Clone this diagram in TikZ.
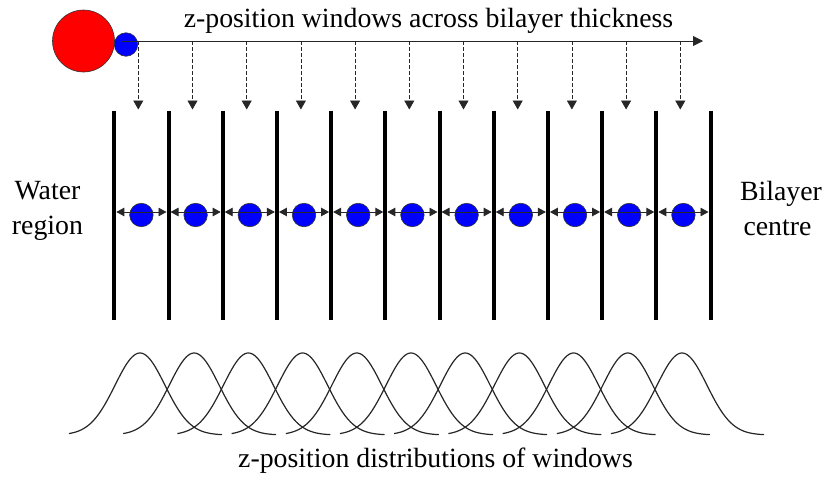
\documentclass[tikz,border=0pt]{standalone}
\usepackage{fontspec}
\setmainfont{Liberation Serif}
\usetikzlibrary{arrows.meta}
\begin{document}
\begin{tikzpicture}[x=1pt,y=-1pt,
  lbl/.style={font=\fontsize{27.8}{33}\selectfont, inner sep=0pt, anchor=base},
  wall/.style={line width=4pt, black},
  probe/.style={black!85, line width=0.8pt, dash pattern=on 3.5pt off 2.5pt,
    -{Triangle[length=9pt,width=10pt]}},
  zaxis/.style={black!85, line width=0.9pt, -{Triangle[length=10pt,width=10pt]}},
  spanarrow/.style={black!85, line width=0.9pt,
    {Triangle[length=8pt,width=8.5pt]}-{Triangle[length=8pt,width=8.5pt]},
    shorten <=2pt, shorten >=2pt},
  bead/.style={circle, draw=black!80, line width=0.6pt, fill=blue,
    minimum size=23.5pt, inner sep=0pt},
  dist/.style={black!85, line width=1.2pt}]
\useasboundingbox (0,0) rectangle (824,477);

% lipid probe: head group and tail bead
\node[circle, draw=black!80, line width=0.6pt, fill=red, minimum size=62pt,
  inner sep=0pt] (head) at (83.5,41) {};
\node[bead] (tail) at (126,44.5) {};

% z axis across the bilayer
\coordinate (axs) at (121,41);
\coordinate (axe) at (703,41);
\draw[zaxis] (axs) -- (axe);
\node[lbl] (title) at (428.5,27) {z-position windows across bilayer thickness};

% window boundaries
\foreach \k in {0,...,11} {
  \pgfmathsetmacro\xw{114.3+54.2*\k}
  \coordinate (wt\k) at (\xw,110.5);
  \coordinate (wb\k) at (\xw,319.5);
  \coordinate (wm\k) at (\xw,212);
  \draw[wall] (wt\k) -- (wb\k);
}

% windows: sampling arrows, restrained beads and distributions
\foreach \k in {0,...,10} {
  \pgfmathsetmacro\xp{138.3+54.2*\k}
  \pgfmathsetmacro\xc{141.4+54.2*\k}
  \pgfmathsetmacro\xg{140+54.2*\k}
  \pgfmathtruncatemacro\n{\k+1}
  \coordinate (ps\k) at (\xp,41);
  \coordinate (pe\k) at (\xp,109.5);
  \draw[probe] (ps\k) -- (pe\k);
  \node[bead] (b\k) at (\xc,215) {};
  \draw[spanarrow] (wm\k) -- (wm\n);
  \draw[dist, domain=-71:82, samples=100, smooth]
    plot ({\xg+\x}, {435-82*exp(-(\x*\x)/1250)});
}

% side labels
\node[lbl] (w1) at (47.5,199) {Water};
\node[lbl] (w2) at (47.5,234) {region};
\node[lbl] (c1) at (781,200) {Bilayer};
\node[lbl] (c2) at (777.5,235) {centre};

\node[lbl] (foot) at (435.5,467) {z-position distributions of windows};
\end{tikzpicture}
\end{document}
